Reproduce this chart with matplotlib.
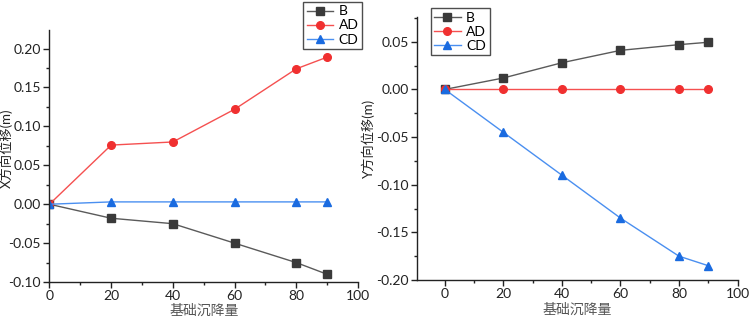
import matplotlib
matplotlib.use("Agg")
import matplotlib.pyplot as plt
from matplotlib.ticker import MultipleLocator, FormatStrFormatter

plt.rcParams['font.family'] = ['Lato', 'Noto Sans CJK SC', 'DejaVu Sans']

x = [0, 20, 40, 60, 80, 90]
series_names = ["B", "AD", "CD"]

x_B = [0, -0.018, -0.025, -0.050, -0.075, -0.090]
x_AD = [0, 0.076, 0.080, 0.122, 0.174, 0.189]
x_CD = [0, 0.003, 0.003, 0.003, 0.003, 0.003]

y_B = [0, 0.012, 0.028, 0.041, 0.047, 0.0495]
y_AD = [0, 0, 0, 0, 0, 0]
y_CD = [0, -0.045, -0.090, -0.135, -0.175, -0.185]

xlabel = "基础沉降量"
ylabel_left = "X方向位移(m)"
ylabel_right = "Y方向位移(m)"

line_colors = ["#5a5a5a", "#f55050", "#4a8ff0"]
marker_colors = ["#3a3a3a", "#f03030", "#1a6be0"]
markers = ["s", "o", "^"]

fig = plt.figure(figsize=(7.49, 3.18), dpi=100)
ax1 = fig.add_axes([0.066, 0.113, 0.412, 0.793])
ax2 = fig.add_axes([0.5567, 0.1195, 0.428, 0.827])

def style(ax):
    for s in ["top", "right"]:
        ax.spines[s].set_visible(False)
    for s in ["left", "bottom"]:
        ax.spines[s].set_linewidth(1.0)
        ax.spines[s].set_color("#222222")
    ax.tick_params(which="major", direction="out", length=4, width=1, labelsize=10,
                   colors="#222222", pad=2)
    ax.tick_params(which="minor", direction="out", length=2.5, width=1, colors="#222222")
    ax.xaxis.set_major_locator(MultipleLocator(20))
    ax.xaxis.set_minor_locator(MultipleLocator(10))
    ax.yaxis.set_major_locator(MultipleLocator(0.05))
    ax.yaxis.set_minor_locator(MultipleLocator(0.025))
    ax.yaxis.set_major_formatter(FormatStrFormatter('%.2f'))

def plot_all(ax, data):
    for d, name, lc, mc, m in zip(data, series_names, line_colors, marker_colors, markers):
        ax.plot(x, d, color=lc, lw=1.0, marker=m, markersize=5.5,
                markerfacecolor=mc, markeredgecolor=mc, label=name)

def legend(ax, anchor):
    leg = ax.legend(loc="upper left", bbox_to_anchor=anchor, fontsize=10,
                    frameon=True, fancybox=False, edgecolor="#222222", handlelength=1.9,
                    borderpad=0.25, labelspacing=0.15, handletextpad=0.4, borderaxespad=0)
    leg.get_frame().set_linewidth(1.0)
    return leg

plot_all(ax1, [x_B, x_AD, x_CD])
style(ax1)
ax1.set_xlim(0, 100)
ax1.set_ylim(-0.10, 0.224)
ax1.set_xlabel(xlabel, fontsize=10, color="#555555")
ax1.xaxis.set_label_coords(0.5, -0.083)
ax1.set_ylabel(ylabel_left, fontsize=9.5, color="#222222")
ax1.yaxis.set_label_coords(-0.118, 0.53)
legend(ax1, (0.823, 1.111))

plot_all(ax2, [y_B, y_AD, y_CD])
style(ax2)
ax2.set_xlim(-9.5, 100)
ax2.set_ylim(-0.20, 0.076)
ax2.set_xlabel(xlabel, fontsize=10, color="#555555")
ax2.xaxis.set_label_coords(0.5, -0.087)
ax2.set_ylabel(ylabel_right, fontsize=9.5, color="#222222")
ax2.yaxis.set_label_coords(-0.13, 0.54)
legend(ax2, (0.043, 1.034))

fig.savefig("out.png", dpi=100)
